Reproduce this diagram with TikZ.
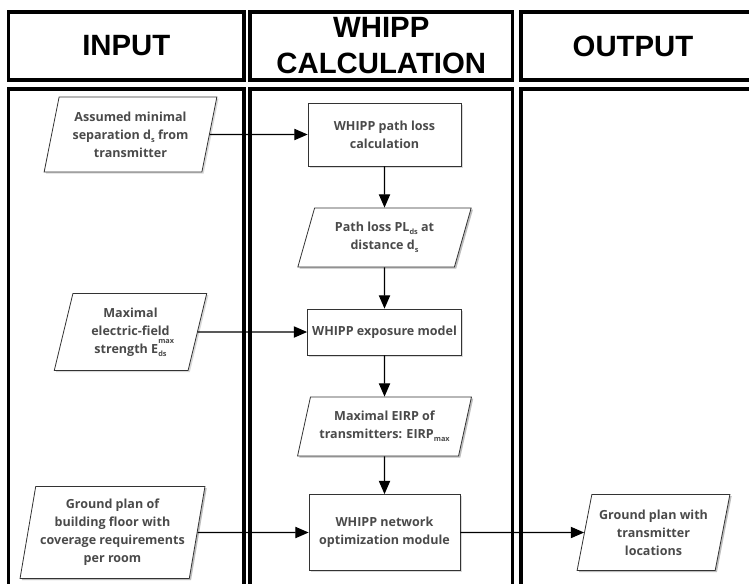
\documentclass[tikz,border=0pt]{standalone}
\usepackage{fontspec}
\setmainfont{Open Sans}
\newfontfamily\headfont{Liberation Sans}
\usetikzlibrary{shapes.geometric,arrows.meta,shadows}

\definecolor{txtgrey}{HTML}{4A4A4A}
\definecolor{boxline}{HTML}{333333}

\newcommand{\lowidx}[1]{\raisebox{-0.5ex}{\fontsize{5.5}{6}\selectfont #1}}
\newcommand{\highidx}[1]{\raisebox{1.45ex}{\fontsize{5.5}{6}\selectfont #1}}

\tikzset{
  shapebase/.style={draw=boxline,line width=0.6pt,fill=white,
    text=txtgrey,align=center,inner sep=2pt,
    font=\bfseries\fontsize{9.4}{13.5}\selectfont,
    drop shadow={shadow xshift=1.3pt,shadow yshift=-1.3pt,opacity=0.3}},
  databox/.style={shapebase,trapezium,trapezium stretches=true,
    trapezium left angle=#1,trapezium right angle=180-#1},
  procbox/.style={shapebase,rectangle}
}

\begin{document}
\begin{tikzpicture}[x=0.75pt,y=-0.75pt]

      \useasboundingbox (0,0) rectangle (749,583);
      \clip (0,0) rectangle (749,583);

      % column frames
      \begin{scope}[line width=2.6pt]
        \draw (8.5,12)  rectangle (244,80);
        \draw (250,12)  rectangle (512.5,80);
        \draw (521,12)  rectangle (770,80);
        \draw (8.5,89)  rectangle (244,620);
        \draw (250,89)  rectangle (512.5,620);
        \draw (521,89)  rectangle (770,620);
      \end{scope}

      \begin{scope}[every node/.style={align=center,
          font=\headfont\bfseries\fontsize{22}{27}\selectfont}]
        \node (input)  at (126.25,46) {INPUT};
        \node (calc)   at (381.25,46) {WHIPP\\CALCULATION};
        \node (output) at (633,46)    {OUTPUT};
      \end{scope}

      \begin{scope}[every node/.style={databox=76}]
        \node[minimum width=129.75pt,minimum height=56.25pt] (separation) at (130.5,134.5)
          {Assumed minimal\\separation d\lowidx{s} from\\transmitter};
        \node[minimum width=114.75pt,minimum height=57.75pt] (efield) at (130.5,332)
          {Maximal\\electric-field\\strength E\rlap{\highidx{max}}\lowidx{ds}};
        \node[databox=78,minimum width=138.75pt,minimum height=69pt] (floorplan) at (112.5,532.5)
          {Ground plan of\\building floor with\\coverage requirements\\per room};
        \node[databox=71,minimum width=131.25pt,minimum height=44.25pt] (plds) at (384.5,237.5)
          {Path loss PL\lowidx{ds} at\\distance d\lowidx{s}};
        \node[databox=72,minimum width=130.5pt,minimum height=44.25pt] (eirp) at (384.5,426.5)
          {Maximal EIRP of\\transmitters: EIRP\lowidx{max}};
        \node[databox=75,minimum width=114.75pt,minimum height=57pt] (locations) at (653.5,532.5)
          {Ground plan with\\transmitter\\locations};
      \end{scope}

      \begin{scope}[every node/.style={procbox}]
        \node[minimum width=114.75pt,minimum height=47.25pt] (pathloss) at (384.5,134.5)
          {WHIPP path loss\\calculation};
        \node[minimum width=115.5pt,minimum height=34.5pt] (exposure) at (384.5,332)
          {WHIPP exposure model};
        \node[minimum width=113.25pt,minimum height=57pt] (network) at (384.5,532.5)
          {WHIPP network\\optimization module};
      \end{scope}

      \begin{scope}[every edge/.style={draw,line width=0.8pt,
          -{Triangle[length=10pt,width=8.5pt]}}]
        \path (separation.east) edge (pathloss.west);
        \path (pathloss.south)  edge (plds.north);
        \path (plds.south)      edge (exposure.north);
        \path (efield.east)     edge (exposure.west);
        \path (exposure.south)  edge (eirp.north);
        \path (eirp.south)      edge (network.north);
        \path (floorplan.east)  edge (network.west);
        \path (network.east)    edge (locations.west);
      \end{scope}

    \end{tikzpicture}
\end{document}
